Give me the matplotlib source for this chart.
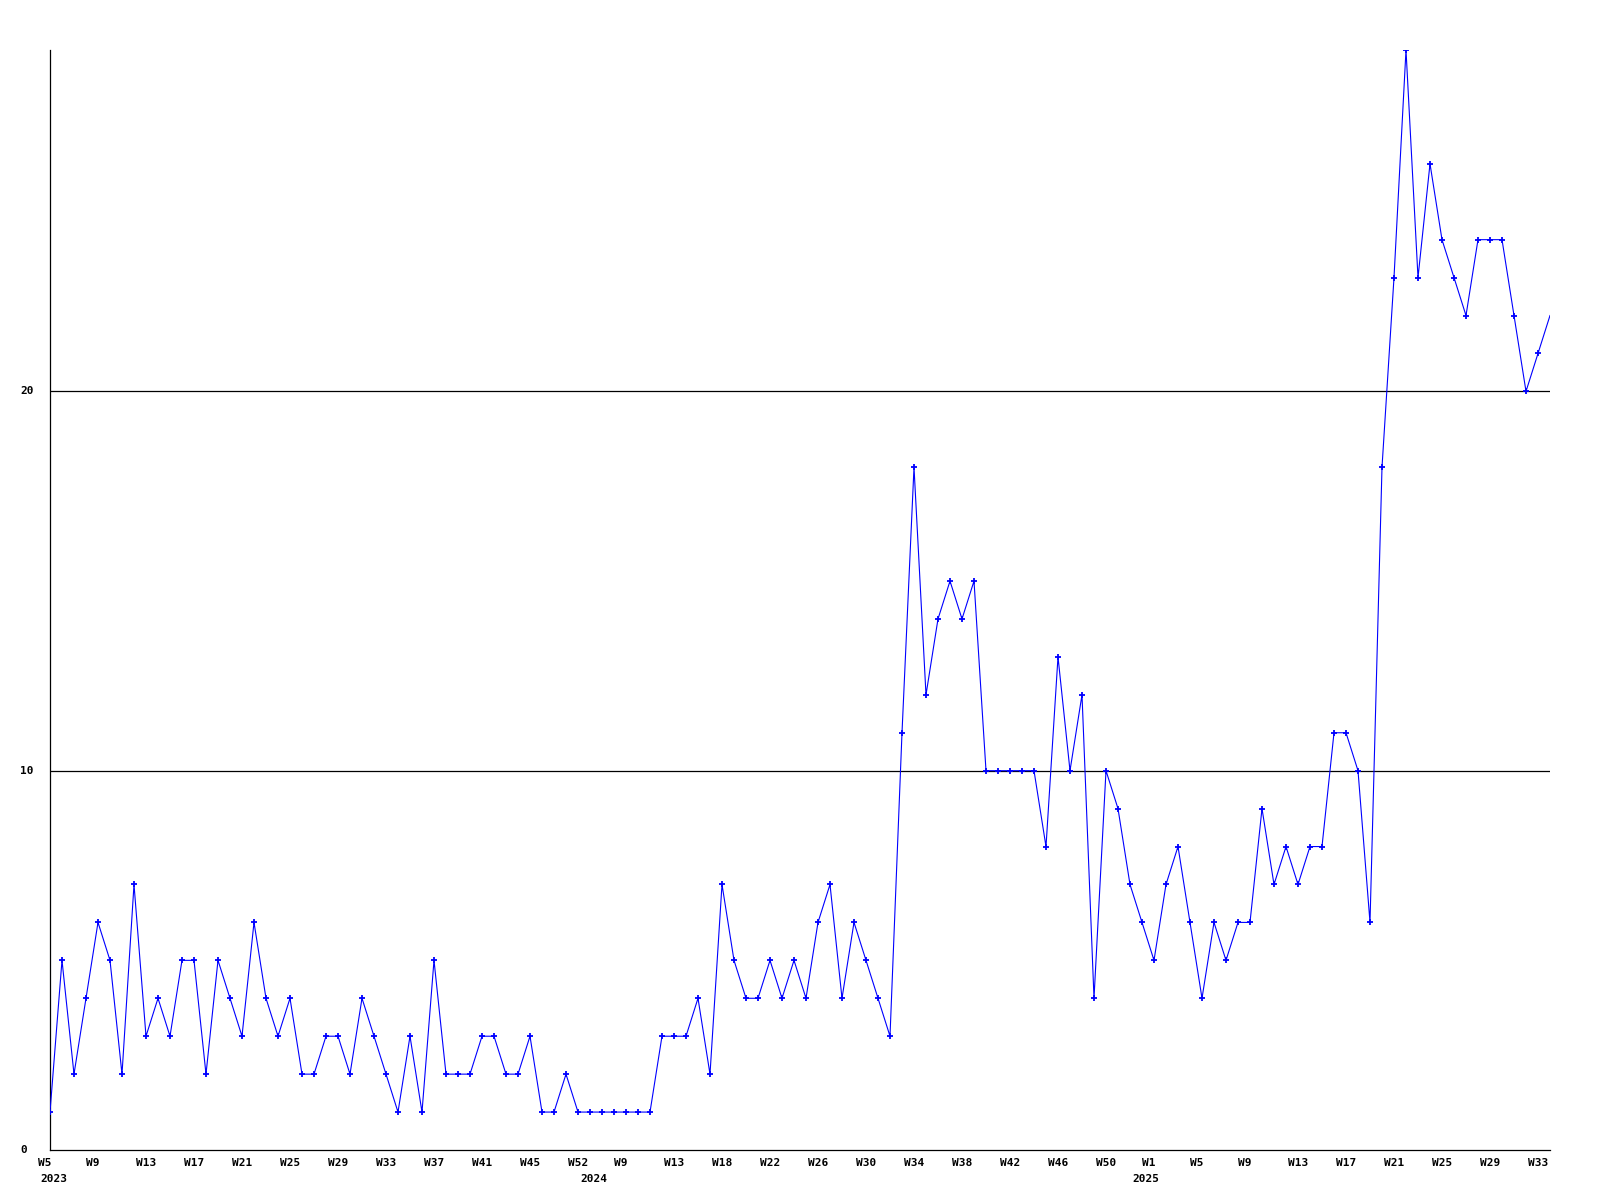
import matplotlib
matplotlib.use("Agg")
import matplotlib.pyplot as plt
import numpy as np

# ---- data ----
values = [
    1, 5, 2, 4, 6, 5, 2, 7, 3, 4,
    3, 5, 5, 2, 5, 4, 3, 6, 4, 3,
    4, 2, 2, 3, 3, 2, 4, 3, 2, 1,
    3, 1, 5, 2,
    2, 2, 3, 3, 2, 2, 3, 1, 1, 2, 1, 1, 1, 1, 1, 1, 1, 3, 3, 3, 4, 2, 7, 5, 4,
    4, 5, 4, 5, 4, 6, 7, 4, 6, 5, 4, 3,
    11, 18, 12, 14, 15, 14, 15, 10, 10, 10, 10, 10, 8, 13, 10, 12, 4, 10, 9, 7, 6, 5, 7, 8, 6,
    4, 6, 5, 6, 6, 9, 7, 8, 7, 8, 8, 11, 11, 10, 6,
    18, 23, 29, 23, 26, 24, 23, 22, 24, 24, 24, 22, 20, 21, 22,
]
week_tick_idx = [0, 4, 8, 12, 16, 20, 24, 28, 32, 36, 40, 44, 48,
                 52, 56, 60, 64, 68, 72, 76, 80, 84, 88, 92, 96, 100,
                 104, 108, 112, 116, 120, 124]
week_tick_labels = ["W5", "W9", "W13", "W17", "W21", "W25", "W29", "W33", "W37",
                    "W41", "W45", "W52", "W9", "W13", "W18", "W22", "W26", "W30",
                    "W34", "W38", "W42", "W46", "W50", "W1", "W5", "W9", "W13",
                    "W17", "W21", "W25", "W29", "W33"]
year_tick_idx = [0, 45, 91]
year_labels = ["2023", "2024", "2025"]
y_ticks = [0, 10, 20]
y_tick_labels = ["0", "10", "20"]

x = np.arange(len(values))

fig = plt.figure(figsize=(16, 12), dpi=100)
fig.patch.set_facecolor("white")
W, H = 1600.0, 1200.0
ax = fig.add_axes([50 / W, 50 / H, 1500 / W, 1100 / H])
ax.set_xlim(0, len(values) - 1)
ax.set_ylim(0, max(values))

for s in ["top", "right"]:
    ax.spines[s].set_visible(False)
for s in ["left", "bottom"]:
    ax.spines[s].set_color("black")
    ax.spines[s].set_linewidth(0.9)
ax.set_xticks([])
ax.set_yticks([])

for yv in y_ticks[1:]:
    ax.axhline(yv, color="black", linewidth=0.9, zorder=1)

ax.plot(x, values, color="#0000FF", linewidth=0.8, marker="+",
        markersize=4.5, markeredgewidth=1.3, markevery=list(range(len(values) - 1)),
        zorder=3, clip_on=True)

font = dict(family="DejaVu Sans Mono", weight="bold", size=8)

xt = ax.get_xaxis_transform()
dx = 11.0 / 1500.0  # left offset in data units per px
px = (len(values) - 1) / 1500.0
for idx, lab in zip(week_tick_idx, week_tick_labels):
    off = 10 if len(lab) >= 3 else 12
    ax.text(idx - off * px, -13 / 1100.0, lab, transform=xt, ha="left",
            va="center", color="black", **font)
for idx, lab in zip(year_tick_idx, year_labels):
    ax.text(idx - 10 * px, -29 / 1100.0, lab, transform=xt, ha="left",
            va="center", color="black", **font)

yt = ax.get_yaxis_transform()
for yv, lab in zip(y_ticks, y_tick_labels):
    ax.text(-30 / 1500.0, yv, lab, transform=yt, ha="left", va="center",
            color="black", **font)

fig.savefig("out.png", dpi=100, facecolor="white")
